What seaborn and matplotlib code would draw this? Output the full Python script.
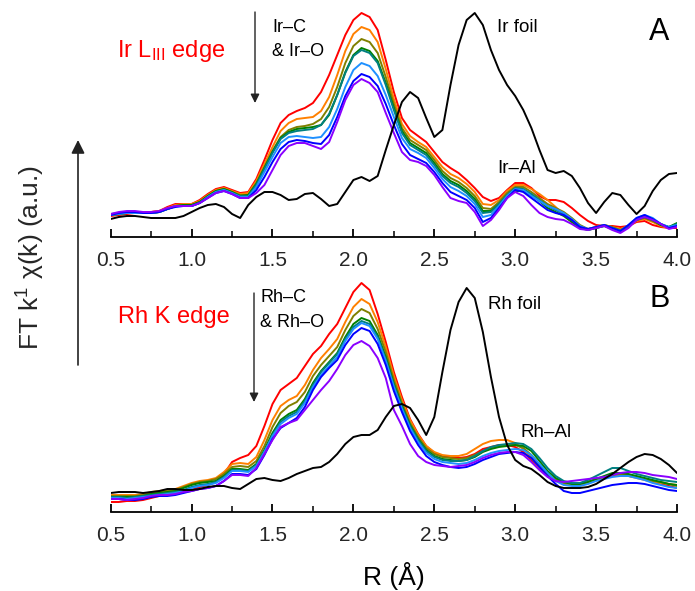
import numpy as np
import pandas as pd
import matplotlib
matplotlib.use("Agg")
import matplotlib.pyplot as plt
from matplotlib.ticker import MultipleLocator
import seaborn as sns

# ---------------------------------------------------------------- data
# radial distance grid (Angstrom)
r = np.round(np.arange(0.5, 4.0001, 0.05), 2)

# Ir L3 edge, |FT k^1 chi(k)| (arbitrary units)
ir_foil = [18, 20, 21, 21, 20, 19, 19, 19, 19, 21,
           25, 29, 32, 33, 30, 23, 19, 32, 40, 45,
           45, 42, 37, 38, 43, 44, 38, 31, 33, 45,
           57, 60, 56, 61, 87, 112, 135, 145, 139, 119,
           100, 107, 152, 192, 217, 224, 212, 187, 167, 152,
           141, 127, 109, 87, 67, 64, 66, 61, 49, 34,
           24, 35, 44, 42, 32, 23, 31, 46, 57, 63,
           64]
ir_1 = [21, 22, 23, 24, 24, 25, 26, 30, 33, 33,
        33, 37, 43, 48, 50, 47, 44, 45, 58, 77,
        97, 114, 122, 126, 129, 134, 145, 162, 182, 202,
        217, 224, 220, 207, 177, 145, 119, 107, 101, 95,
        85, 75, 69, 64, 57, 49, 40, 36, 39, 47,
        54, 54, 49, 41, 37, 37, 35, 29, 22, 16,
        12, 11, 11, 10, 11, 15, 16, 12, 10, 9,
        9]
ir_2 = [22, 23, 24, 25, 24, 25, 26, 29, 32, 33,
        33, 36, 42, 47, 49, 46, 43, 44, 56, 73,
        90, 106, 114, 118, 119, 120, 126, 140, 162, 186,
        203, 210, 207, 195, 168, 138, 113, 101, 95, 90,
        80, 70, 63, 59, 53, 45, 33, 32, 37, 46,
        52, 52, 48, 43, 37, 30, 22, 15, 10, 8,
        10, 12, 10, 8, 11, 16, 18, 15, 11, 9,
        12]
ir_3 = [22, 23, 24, 24, 24, 24, 25, 28, 31, 32,
        32, 35, 41, 46, 48, 45, 42, 42, 54, 70,
        86, 100, 107, 110, 111, 113, 118, 130, 150, 174,
        191, 198, 195, 184, 160, 133, 109, 97, 92, 87,
        77, 66, 59, 55, 49, 41, 29, 28, 35, 44,
        50, 50, 45, 39, 33, 29, 25, 19, 12, 8,
        10, 12, 10, 7, 11, 17, 19, 16, 12, 10,
        12]
ir_4 = [22, 23, 24, 25, 24, 24, 25, 28, 31, 32,
        32, 35, 41, 46, 48, 45, 41, 42, 53, 69,
        85, 99, 105, 108, 109, 110, 112, 122, 142, 165,
        182, 189, 186, 176, 154, 129, 106, 94, 89, 84,
        74, 63, 56, 52, 46, 38, 26, 26, 33, 41,
        46, 46, 42, 36, 29, 25, 21, 15, 9, 7,
        9, 11, 9, 6, 11, 17, 20, 17, 12, 10,
        14]
ir_5 = [23, 24, 25, 25, 24, 24, 25, 28, 31, 31,
        31, 34, 40, 45, 47, 44, 41, 41, 52, 68,
        84, 98, 104, 106, 107, 108, 112, 123, 142, 164,
        181, 187, 184, 174, 152, 127, 104, 92, 87, 82,
        72, 61, 54, 50, 44, 36, 24, 25, 33, 42,
        49, 48, 43, 37, 31, 27, 23, 17, 10, 7,
        9, 11, 8, 5, 11, 18, 21, 18, 13, 10,
        13]
ir_6 = [22, 23, 24, 24, 24, 24, 25, 28, 31, 31,
        31, 34, 40, 45, 47, 44, 40, 40, 50, 65,
        80, 94, 100, 101, 100, 99, 100, 110, 128, 150,
        167, 174, 171, 161, 142, 120, 99, 88, 84, 79,
        69, 58, 50, 46, 41, 33, 20, 22, 31, 41,
        48, 47, 41, 36, 31, 28, 24, 18, 11, 8,
        10, 12, 9, 6, 12, 19, 22, 19, 13, 10,
        12]
ir_7 = [22, 24, 25, 25, 24, 24, 25, 28, 30, 31,
        31, 34, 39, 44, 46, 43, 39, 39, 47, 60,
        75, 88, 95, 97, 96, 94, 93, 102, 120, 141,
        156, 163, 160, 151, 133, 112, 93, 82, 78, 74,
        65, 54, 45, 41, 37, 29, 15, 19, 29, 39,
        47, 45, 39, 33, 27, 24, 22, 17, 10, 8,
        10, 12, 9, 6, 12, 19, 22, 18, 13, 9,
        11]
ir_8 = [23, 25, 26, 26, 25, 25, 26, 29, 31, 31,
        31, 34, 39, 44, 46, 43, 39, 39, 44, 52,
        67, 82, 91, 94, 94, 91, 88, 95, 115, 137,
        152, 158, 154, 145, 124, 104, 85, 77, 75, 71,
        62, 50, 39, 36, 34, 25, 11, 17, 27, 39,
        45, 41, 32, 24, 20, 18, 17, 13, 8, 7,
        9, 11, 7, 4, 9, 17, 20, 17, 13, 8,
        10]

# Rh K edge, |FT k^1 chi(k)| (arbitrary units)
rh_foil = [19, 20, 20, 20, 19, 20, 21, 23, 23, 22,
           22, 23, 25, 26, 26, 24, 23, 28, 33, 34,
           32, 31, 34, 38, 41, 44, 45, 50, 58, 68,
           75, 77, 77, 82, 95, 106, 108, 104, 92, 77,
           95, 140, 182, 210, 224, 214, 180, 135, 95, 67,
           52, 46, 43, 37, 30, 26, 24, 24, 24, 25,
           28, 33, 38, 44, 50, 55, 58, 57, 53, 47,
           39]
rh_1 = [10, 10, 11, 11, 12, 14, 16, 17, 18, 20,
        22, 25, 27, 30, 38, 50, 54, 57, 66, 86,
        108, 122, 128, 134, 146, 158, 166, 178, 188, 204,
        220, 229, 222, 198, 170, 140, 115, 93, 78, 66,
        59, 56, 55, 54, 55, 58, 63, 65, 67, 67,
        65, 60, 52, 43, 36, 32, 29, 27, 27, 30,
        32, 34, 36, 37, 36, 35, 33, 30, 28, 26,
        24]
rh_2 = [17, 17, 17, 17, 18, 20, 21, 22, 23, 26,
        29, 31, 32, 34, 40, 48, 49, 48, 55, 72,
        92, 106, 112, 116, 127, 142, 154, 163, 173, 190,
        205, 213, 208, 190, 165, 136, 112, 92, 77, 66,
        60, 57, 56, 56, 58, 63, 68, 71, 72, 72,
        69, 63, 54, 44, 36, 31, 28, 27, 28, 30,
        32, 34, 36, 37, 36, 34, 32, 30, 29, 28,
        27]
rh_3 = [16, 16, 16, 16, 17, 19, 20, 21, 22, 25,
        28, 30, 31, 33, 38, 45, 46, 45, 51, 66,
        85, 99, 106, 110, 120, 136, 147, 156, 165, 182,
        196, 203, 199, 183, 160, 132, 109, 89, 75, 64,
        58, 55, 54, 53, 54, 57, 61, 64, 66, 67,
        67, 64, 57, 47, 38, 32, 29, 28, 28, 30,
        33, 35, 37, 38, 37, 35, 33, 31, 30, 28,
        26]
rh_4 = [15, 15, 15, 15, 16, 18, 19, 20, 21, 24,
        27, 29, 30, 31, 36, 43, 43, 42, 48, 62,
        79, 92, 98, 102, 113, 129, 141, 150, 159, 175,
        188, 194, 191, 177, 155, 128, 106, 87, 73, 62,
        56, 53, 52, 51, 52, 55, 60, 63, 65, 66,
        67, 66, 61, 51, 41, 34, 30, 28, 28, 30,
        33, 36, 39, 39, 38, 36, 34, 32, 30, 28,
        27]
rh_5 = [15, 15, 14, 15, 16, 17, 18, 19, 20, 22,
        25, 27, 28, 30, 35, 42, 42, 41, 47, 61,
        77, 90, 96, 100, 111, 127, 140, 149, 158, 173,
        185, 191, 188, 175, 153, 127, 105, 86, 72, 61,
        55, 52, 51, 51, 52, 56, 61, 65, 67, 68,
        69, 68, 63, 54, 44, 36, 31, 29, 29, 32,
        36, 40, 44, 44, 41, 38, 36, 34, 32, 31,
        30]
rh_6 = [14, 14, 13, 14, 15, 16, 17, 18, 19, 21,
        24, 26, 27, 29, 34, 41, 41, 40, 46, 60,
        76, 88, 94, 98, 109, 125, 137, 146, 155, 171,
        183, 189, 186, 173, 151, 125, 103, 84, 70, 59,
        53, 50, 49, 48, 49, 52, 56, 59, 61, 62,
        63, 62, 57, 48, 39, 31, 27, 26, 26, 28,
        31, 33, 35, 36, 36, 34, 32, 29, 27, 25,
        24]
rh_7 = [13, 13, 12, 12, 13, 15, 16, 16, 17, 19,
        21, 23, 24, 26, 31, 38, 38, 37, 43, 57,
        73, 84, 89, 94, 105, 122, 135, 144, 152, 167,
        178, 184, 181, 168, 147, 121, 100, 81, 67, 56,
        50, 47, 45, 44, 45, 48, 52, 55, 58, 59,
        60, 59, 54, 45, 36, 28, 21, 19, 19, 21,
        23, 25, 27, 28, 29, 29, 28, 26, 24, 22,
        21]
rh_8 = [13, 13, 12, 13, 14, 16, 17, 17, 18, 20,
        21, 23, 24, 26, 31, 37, 37, 36, 44, 58,
        72, 85, 89, 92, 102, 112, 122, 131, 143, 157,
        167, 171, 166, 154, 134, 102, 86, 68, 56, 50,
        47, 46, 45, 46, 47, 50, 54, 57, 59, 60,
        60, 57, 50, 42, 35, 31, 30, 31, 32, 33,
        34, 35, 37, 39, 40, 40, 39, 37, 36, 35,
        33]

sample_colors = ["#FF0000", "#FF8000", "#808000", "#008000",
                 "#008080", "#1E90FF", "#0000FF", "#8A00FF"]
x_ticks = [0.5, 1.0, 1.5, 2.0, 2.5, 3.0, 3.5, 4.0]

# ---------------------------------------------------------------- style
sns.set_style("white")
plt.rcParams["font.family"] = ["Liberation Sans", "DejaVu Sans"]
plt.rcParams["mathtext.fontset"] = "custom"
plt.rcParams["mathtext.rm"] = "Liberation Sans"
plt.rcParams["mathtext.it"] = "Liberation Sans:italic"
plt.rcParams["mathtext.bf"] = "Liberation Sans:bold"
plt.rcParams["lines.solid_joinstyle"] = "round"

W, H = 695, 591
fig = plt.figure(figsize=(W / 100, H / 100), dpi=100)


def fx(x):
    return x / W


def fy(y):
    return 1 - y / H


def long_table(samples):
    frames = []
    for i, vals in enumerate(samples):
        frames.append(pd.DataFrame({"R": r, "FT": vals, "trace": i}))
    return pd.concat(frames, ignore_index=True)


def draw_panel(ax, samples, foil):
    df = long_table(samples)
    sns.lineplot(data=df, x="R", y="FT", hue="trace", palette=sample_colors,
                 legend=False, ax=ax, linewidth=1.4, estimator=None)
    sns.lineplot(x=r, y=foil, color="black", ax=ax, linewidth=1.4,
                 estimator=None)
    ax.set_xlim(0.5, 4.0)
    ax.set_ylim(0, 237)
    ax.set_facecolor("none")
    for s in ("left", "right", "top"):
        ax.spines[s].set_visible(False)
    ax.spines["bottom"].set_linewidth(1.3)
    ax.spines["bottom"].set_color("black")
    ax.set_yticks([])
    ax.set_xticks(x_ticks)
    ax.set_xticklabels([f"{t:.1f}" for t in x_ticks])
    ax.xaxis.set_minor_locator(MultipleLocator(0.25))
    ax.tick_params(axis="x", which="major", direction="in", length=6,
                   width=1.3, color="black", labelsize=15, pad=10,
                   bottom=True)
    ax.tick_params(axis="x", which="minor", direction="in", length=4,
                   width=1.1, color="black", bottom=True)
    ax.set_xlabel("")
    ax.set_ylabel("")


left, right = 110.7, 677
axA = fig.add_axes([fx(left), fy(237), fx(right - left), 237 / H])
axB = fig.add_axes([fx(left), fy(512), fx(right - left), 237 / H])

draw_panel(axA, [ir_1, ir_2, ir_3, ir_4, ir_5, ir_6, ir_7, ir_8], ir_foil)
draw_panel(axB, [rh_1, rh_2, rh_3, rh_4, rh_5, rh_6, rh_7, rh_8], rh_foil)

# ---------------------------------------------------------------- labels
def label(x, y, s, size, color="black", **kw):
    fig.text(fx(x), fy(y), s, fontsize=size, color=color,
             va="baseline", **kw)


label(117, 57, r"Ir L$_{\mathrm{III}}$ edge", 17, color="#FF0000")
label(272, 32, "Ir\u2013C", 13)
label(272, 56, "& Ir\u2013O", 13)
label(497, 32, "Ir foil", 13.5)
label(497, 173, "Ir\u2013Al", 13.5)
label(649, 40, "A", 22)

label(118, 323, "Rh K edge", 17, color="#FF0000")
label(260, 302, "Rh\u2013C", 13)
label(260, 327, "& Rh\u2013O", 13)
label(488, 309, "Rh foil", 13.5)
label(520, 437, "Rh\u2013Al", 13.5)
label(650, 307, "B", 22)

label(394, 585, "R (\u00c5)", 19, ha="center")
fig.text(fx(31), fy(257), r"FT k$^{1}$ χ(k) (a.u.)", fontsize=19,
         rotation=90, ha="center", va="center")


def arrow(x, y_tail, y_head, lw, scale):
    fig.add_artist(matplotlib.patches.FancyArrowPatch(
        (fx(x), fy(y_tail)), (fx(x), fy(y_head)),
        transform=fig.transFigure, arrowstyle="-|>", color="#222222",
        linewidth=lw, mutation_scale=scale, shrinkA=0, shrinkB=0))


arrow(78, 365, 140, 1.2, 20)
arrow(255, 12, 103, 1.0, 13)
arrow(254, 293, 402, 1.0, 13)

fig.savefig("out.png", dpi=100)
